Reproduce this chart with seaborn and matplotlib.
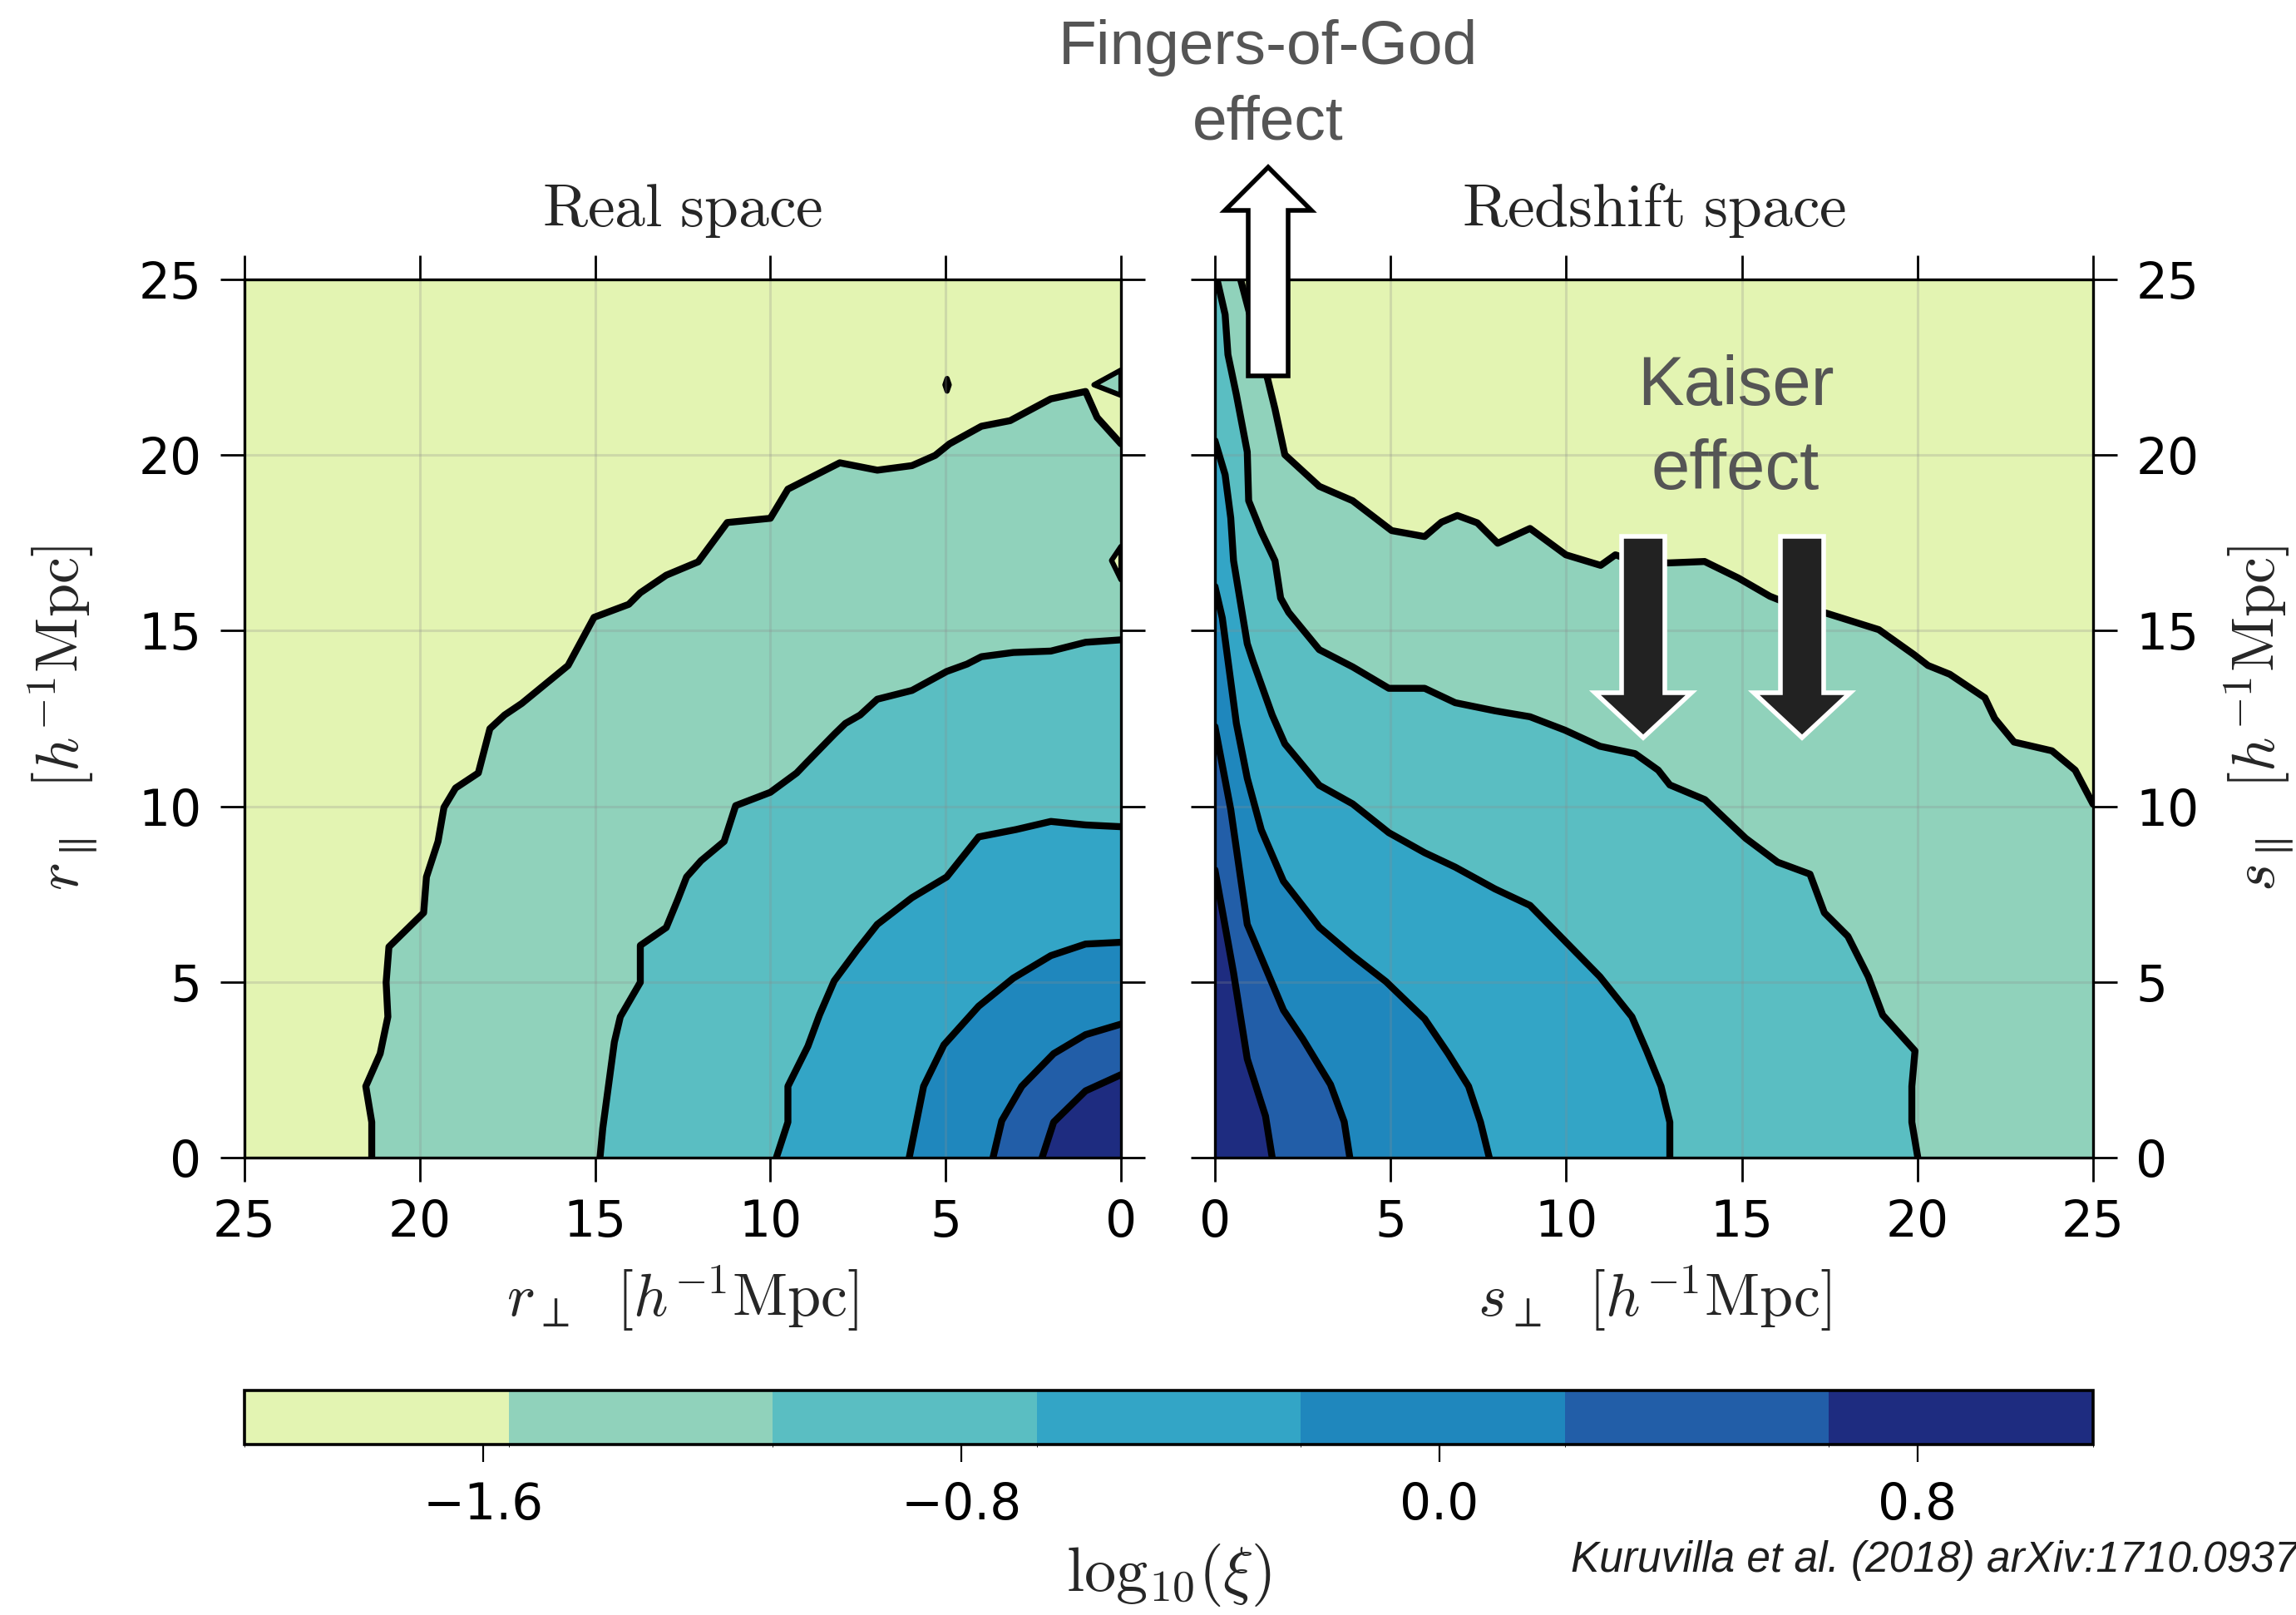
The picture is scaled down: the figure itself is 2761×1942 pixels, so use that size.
import matplotlib
matplotlib.use("Agg")
import matplotlib.pyplot as plt
import seaborn as sns
from matplotlib.colors import ListedColormap, BoundaryNorm
from matplotlib.cm import ScalarMappable
from matplotlib.patches import FancyArrow

# ---------------------------------------------------------------------------
# Contour levels of log10(xi) and the fill colour of each band between them
LEVELS = [-2.0, -1.558, -1.116, -0.674, -0.232, 0.210, 0.652, 1.094]
BAND_COLORS = ["#e3f4b2", "#90d2bb", "#5abec2", "#33a5c6", "#1f87bd", "#225ea8", "#1e2c80"]
CBAR_TICKS = [-1.6, -0.8, 0.0, 0.8]
CBAR_TICKLABELS = ["\u22121.6", "\u22120.8", "0.0", "0.8"]
AXIS_TICKS = [0, 5, 10, 15, 20, 25]

# Real space: iso-level boundaries (perpendicular, parallel) in h^-1 Mpc,
# from the line-of-sight axis down to the perpendicular axis.
REAL_B1_PERP = [0.0, 0.68, 1.01, 2.0, 3.16, 3.98, 4.89, 5.30, 5.96, 6.95, 8.02, 9.50, 10.0, 11.23,
                12.06, 12.97, 13.71, 14.04, 15.03, 15.77, 17.09, 17.58, 18.0, 18.33, 18.98, 19.31,
                19.48, 19.81, 19.89, 20.88, 20.96, 20.91, 21.13, 21.54, 21.37, 21.37]
REAL_B1_PAR = [20.32, 21.07, 21.81, 21.60, 20.98, 20.82, 20.32, 19.99, 19.70, 19.57, 19.78, 19.03,
               18.20, 18.08, 16.96, 16.58, 16.08, 15.75, 15.38, 14.01, 12.93, 12.60, 12.21, 10.95,
               10.52, 9.97, 9.00, 7.99, 6.97, 6.00, 4.99, 4.01, 2.96, 2.03, 1.01, 0.0]
REAL_B2_PERP = [0.0, 1.01, 2.0, 3.07, 3.98, 4.39, 4.97, 5.96, 6.95, 7.44, 7.86, 8.18, 9.01, 9.25,
                10.0, 10.99, 11.32, 11.98, 12.39, 12.64, 12.97, 13.71, 13.71, 14.28, 14.45, 14.62,
                14.78, 14.86]
REAL_B2_PAR = [14.74, 14.67, 14.42, 14.38, 14.26, 14.05, 13.84, 13.30, 13.05, 12.60, 12.36, 12.05,
               11.20, 10.95, 10.40, 10.02, 9.00, 8.45, 7.99, 7.35, 6.55, 6.04, 4.99, 4.01, 3.29,
               2.03, 0.84, 0.0]
REAL_B3_PERP = [0.0, 1.01, 2.0, 2.99, 4.06, 4.97, 5.96, 6.95, 7.52, 8.18, 8.60, 8.93, 9.50, 9.50, 9.83]
REAL_B3_PAR = [9.42, 9.47, 9.57, 9.34, 9.13, 7.99, 7.40, 6.64, 5.92, 5.03, 4.06, 3.17, 2.03, 1.01, 0.0]
REAL_B4_PERP = [0.0, 1.01, 2.0, 3.07, 4.06, 5.05, 5.63, 6.04]
REAL_B4_PAR = [6.13, 6.08, 5.75, 5.11, 4.31, 3.21, 2.03, 0.0]
REAL_B5_PERP = [0.0, 1.01, 1.92, 2.83, 3.40, 3.65]
REAL_B5_PAR = [3.80, 3.50, 2.96, 2.03, 1.05, 0.0]
REAL_B6_PERP = [0.0, 1.01, 1.92, 2.25]
REAL_B6_PAR = [2.36, 1.90, 1.01, 0.0]

# Small isolated level patches in real space (perp, par, band index)
REAL_ISLE1_PERP = [0.0, 0.77, 0.0]
REAL_ISLE1_PAR = [22.42, 22.0, 21.70]
REAL_ISLE2_PERP = [4.90, 4.96, 5.02, 4.96]
REAL_ISLE2_PAR = [22.0, 22.18, 22.0, 21.82]
REAL_ISLE3_PERP = [0.0, 0.27, 0.0]
REAL_ISLE3_PAR = [17.40, 17.0, 16.45]

# Redshift space boundaries
RSD_B1_PERP = [0.73, 1.10, 1.51, 1.71, 1.99, 2.97, 3.92, 5.03, 5.97, 6.45, 6.90, 7.47, 8.05, 8.97,
               9.99, 10.98, 11.40, 12.0, 12.92, 13.94, 14.90, 15.80, 16.50, 17.40, 18.90, 19.90,
               20.30, 20.92, 21.92, 22.20, 22.75, 23.83, 24.49, 25.0]
RSD_B1_PAR = [25.0, 23.6, 22.13, 21.31, 20.01, 19.11, 18.70, 17.85, 17.68, 18.09, 18.28, 18.07,
              17.49, 17.91, 17.16, 16.86, 17.16, 16.95, 16.93, 16.97, 16.50, 15.98, 15.70, 15.50,
              15.03, 14.32, 14.01, 13.76, 13.09, 12.50, 11.83, 11.58, 11.03, 10.06]
RSD_B2_PERP = [0.06, 0.29, 0.37, 0.61, 0.92, 0.96, 1.32, 1.71, 1.87, 2.10, 2.97, 3.92, 4.95, 5.97,
               6.84, 7.97, 8.97, 9.96, 10.96, 11.96, 12.62, 12.95, 13.95, 15.11, 16.02, 16.94,
               17.35, 18.02, 18.60, 19.01, 19.93, 19.84, 19.84, 20.01]
RSD_B2_PAR = [25.0, 24.0, 22.86, 21.72, 20.09, 18.70, 17.81, 16.99, 15.93, 15.52, 14.46, 13.97,
              13.36, 13.36, 12.95, 12.72, 12.55, 12.17, 11.71, 11.50, 11.03, 10.61, 10.19, 9.09,
              8.41, 8.07, 6.97, 6.30, 5.15, 4.06, 3.04, 2.03, 1.01, 0.0]
RSD_B3_PERP = [0.0, 0.29, 0.45, 0.53, 0.92, 1.08, 1.63, 1.99, 2.97, 3.92, 4.95, 5.97, 6.84, 7.97,
               8.97, 9.96, 10.96, 11.87, 12.29, 12.70, 12.95, 12.95]
RSD_B3_PAR = [20.41, 19.44, 18.21, 16.99, 14.63, 14.14, 12.60, 11.78, 10.60, 10.07, 9.25, 8.68,
              8.27, 7.65, 7.18, 6.17, 5.15, 4.01, 3.04, 2.03, 1.01, 0.0]
RSD_B4_PERP = [0.0, 0.21, 0.61, 0.92, 1.32, 1.95, 2.97, 3.92, 4.87, 5.97, 6.64, 7.22, 7.56, 7.81]
RSD_B4_PAR = [16.26, 15.36, 12.36, 10.80, 9.33, 7.87, 6.56, 5.75, 5.01, 3.95, 2.96, 2.03, 1.01, 0.0]
RSD_B5_PERP = [0.0, 0.45, 0.92, 1.95, 2.50, 3.29, 3.68, 3.84]
RSD_B5_PAR = [12.27, 9.91, 6.64, 4.20, 3.38, 2.08, 1.02, 0.0]
RSD_B6_PERP = [0.0, 0.53, 0.92, 1.44, 1.63]
RSD_B6_PAR = [8.19, 5.26, 2.81, 1.18, 0.0]

REAL_BOUNDARIES = [(REAL_B1_PERP, REAL_B1_PAR), (REAL_B2_PERP, REAL_B2_PAR),
                   (REAL_B3_PERP, REAL_B3_PAR), (REAL_B4_PERP, REAL_B4_PAR),
                   (REAL_B5_PERP, REAL_B5_PAR), (REAL_B6_PERP, REAL_B6_PAR)]
REAL_ISLANDS = [(REAL_ISLE1_PERP, REAL_ISLE1_PAR, 1), (REAL_ISLE2_PERP, REAL_ISLE2_PAR, 1),
                (REAL_ISLE3_PERP, REAL_ISLE3_PAR, 0)]
RSD_BOUNDARIES = [(RSD_B1_PERP, RSD_B1_PAR), (RSD_B2_PERP, RSD_B2_PAR),
                  (RSD_B3_PERP, RSD_B3_PAR), (RSD_B4_PERP, RSD_B4_PAR),
                  (RSD_B5_PERP, RSD_B5_PAR), (RSD_B6_PERP, RSD_B6_PAR)]

# ---------------------------------------------------------------------------
sns.set_style("ticks")
plt.rcParams.update({
    "font.family": ["DejaVu Sans"],
    "mathtext.fontset": "cm",
    "axes.linewidth": 2.4,
    "axes.edgecolor": "black",
    "xtick.color": "black",
    "ytick.color": "black",
})

W, H = 2761, 1942
fig = plt.figure(figsize=(W / 100, H / 100), dpi=100)


def frac(x0, y0, x1, y1):
    return [x0 / W, 1 - y1 / H, (x1 - x0) / W, (y1 - y0) / H]


ax_r = fig.add_axes(frac(294, 336, 1348, 1392))
ax_s = fig.add_axes(frac(1461, 336, 2517, 1392))
cax = fig.add_axes(frac(294, 1672, 2517, 1737))

LW = 6.0


def draw_panel(ax, boundaries, islands):
    ax.fill([0, 25, 25, 0], [0, 0, 25, 25], color=BAND_COLORS[0], lw=0, zorder=1)
    for k, (perp, par) in enumerate(boundaries, start=1):
        px = [0, 0] + list(perp) + [perp[-1]]
        py = [0, par[0]] + list(par) + [0]
        ax.fill(px, py, color=BAND_COLORS[k], lw=0, zorder=1 + 0.01 * k)
    for perp, par, band in islands:
        ax.fill(perp, par, facecolor=BAND_COLORS[band], edgecolor="black", lw=LW * 0.75,
                joinstyle="round", zorder=1.5)
    for perp, par in boundaries:
        sns.lineplot(x=perp, y=par, sort=False, estimator=None, errorbar=None,
                     color="black", lw=LW, solid_joinstyle="round", ax=ax, zorder=4)
    ax.set_xlim(0, 25)
    ax.set_ylim(0, 25)
    ax.set_xticks(AXIS_TICKS)
    ax.set_yticks(AXIS_TICKS)
    ax.set_axisbelow(False)
    ax.grid(True, color="#8c8c8c", alpha=0.25, lw=2.2)
    ax.tick_params(which="major", direction="out", length=21, width=2.0, labelsize=43,
                   top=True, bottom=True, left=True, right=True)
    ax.tick_params(axis="x", pad=14)
    ax.tick_params(axis="y", pad=16)
    for sp in ax.spines.values():
        sp.set_visible(True)
        sp.set_linewidth(2.4)
        sp.set_zorder(5)


draw_panel(ax_r, REAL_BOUNDARIES, REAL_ISLANDS)
draw_panel(ax_s, RSD_BOUNDARIES, [])

ax_r.set_xlim(25, 0)
ax_r.tick_params(labelleft=True, labelright=False)
ax_s.tick_params(labelleft=False, labelright=True)

TITLE_Y = 1 + 64 / 1056
ax_r.text(0.5, TITLE_Y, r"$\mathrm{Real\ space}$", transform=ax_r.transAxes,
          ha="center", va="baseline", fontsize=53)
ax_s.text(0.5, TITLE_Y, r"$\mathrm{Redshift\ space}$", transform=ax_s.transAxes,
          ha="center", va="baseline", fontsize=53)

ax_r.set_xlabel(r"$r_{\perp}\ \ [h^{-1}\mathrm{Mpc}]$", fontsize=52, labelpad=14)
ax_s.set_xlabel(r"$s_{\perp}\ \ [h^{-1}\mathrm{Mpc}]$", fontsize=52, labelpad=14)
ax_r.set_ylabel(r"$r_{\parallel}\ \ [h^{-1}\mathrm{Mpc}]$", fontsize=52)
ax_r.yaxis.set_label_coords(-0.165, 0.5)
ax_s.yaxis.set_label_position("right")
ax_s.set_ylabel(r"$s_{\parallel}\ \ [h^{-1}\mathrm{Mpc}]$", fontsize=52)
ax_s.yaxis.set_label_coords(1.148, 0.5)

# Colour bar of the discrete levels
sm = ScalarMappable(norm=BoundaryNorm(LEVELS, ncolors=len(BAND_COLORS)),
                    cmap=ListedColormap(BAND_COLORS))
cb = fig.colorbar(sm, cax=cax, orientation="horizontal", ticks=CBAR_TICKS)
cb.ax.set_xticklabels(CBAR_TICKLABELS)
cb.ax.tick_params(length=15, width=1.6, labelsize=43, pad=17, direction="out")
cb.outline.set_linewidth(2.6)
cb.set_label(r"$\mathrm{log}_{10}(\xi)$", fontsize=55, labelpad=10)

# Annotations
ANNOT = "#555555"
fig.text(1525 / W, 1 - 77 / H, "Fingers-of-God", ha="center", va="baseline",
         fontsize=54, color=ANNOT, family="Liberation Sans")
fig.text(1525 / W, 1 - 168 / H, "effect", ha="center", va="baseline",
         fontsize=54, color=ANNOT, family="Liberation Sans")
fig.text(2087 / W, 1 - 487 / H, "Kaiser", ha="center", va="baseline",
         fontsize=60, color=ANNOT, family="Liberation Sans", zorder=6)
fig.text(2087 / W, 1 - 588 / H, "effect", ha="center", va="baseline",
         fontsize=60, color=ANNOT, family="Liberation Sans", zorder=6)
fig.text(1889 / W, 1 - 1890 / H, "Kuruvilla et al. (2018) arXiv:1710.09379", ha="left",
         va="baseline", fontsize=37, color="#1e1e1e", style="italic", family="Liberation Sans")


def px_arrow(xc, y_tail, y_tip, width, head_w, head_l, fc, ec):
    arr = FancyArrow(xc / 100, (H - y_tail) / 100, 0, (y_tail - y_tip) / 100,
                     width=width / 100, head_width=head_w / 100, head_length=head_l / 100,
                     length_includes_head=True, transform=fig.dpi_scale_trans,
                     facecolor=fc, edgecolor=ec, lw=4, zorder=7)
    fig.add_artist(arr)


px_arrow(1525, 452, 201, 48, 104, 52, "white", "black")
px_arrow(1976, 645, 887, 52, 116, 54, "#222222", "white")
px_arrow(2167, 645, 887, 52, 116, 54, "#222222", "white")

fig.savefig("out.png", dpi=100)
